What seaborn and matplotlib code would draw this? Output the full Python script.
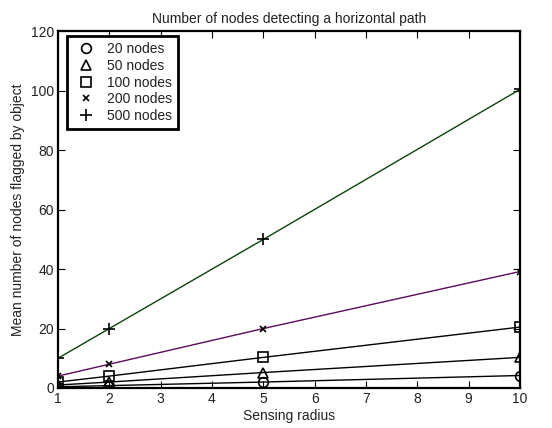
import matplotlib
matplotlib.use("Agg")
import matplotlib.pyplot as plt
from matplotlib.lines import Line2D
import seaborn as sns
import pandas as pd

radius = [1, 2, 5, 10]
nodes_20 = [0.4, 0.8, 2.0, 4.2]
nodes_50 = [1.0, 2.0, 5.2, 10.3]
nodes_100 = [2.0, 4.0, 10.3, 20.5]
nodes_200 = [4.0, 8.0, 20.0, 39.2]
nodes_500 = [10.0, 20.0, 50.0, 100.5]
labels = ["20 nodes", "50 nodes", "100 nodes", "200 nodes", "500 nodes"]

sns.set_theme(style="white")
plt.rcParams["font.family"] = ["Liberation Sans", "DejaVu Sans"]

fig = plt.figure(figsize=(5.52, 4.28), dpi=100)
ax = fig.add_axes([0.105, 0.0935, 0.837, 0.833])

series = [nodes_20, nodes_50, nodes_100, nodes_200, nodes_500]
markers = ["o", "^", "s", "x", "+"]
msizes = [7, 7, 6.5, 4, 9]
line_colors = ["black", "black", "black", "#5c0a5c", "#0a440a"]

for vals, lab, mk, ms, lc in zip(series, labels, markers, msizes, line_colors):
    df = pd.DataFrame({"r": radius, "v": vals})
    sns.lineplot(data=df, x="r", y="v", ax=ax, color=lc, linewidth=1.0,
                 marker=mk, markersize=ms, markerfacecolor="none",
                 markeredgecolor="black", markeredgewidth=1.2,
                 legend=False)

ax.set_xlim(1, 10)
ax.set_ylim(0, 120)
ax.set_xticks(range(1, 11))
ax.set_yticks(range(0, 121, 20))
ax.tick_params(direction="in", length=5, width=0.8, labelsize=10,
               top=True, right=True, bottom=True, left=True, pad=3,
               colors="black", labelcolor="#222222")
for sp in ax.spines.values():
    sp.set_visible(True)
    sp.set_color("black")
    sp.set_linewidth(1.6)

ax.set_xlabel("Sensing radius", fontsize=10, labelpad=2, color="#222222")
ax.set_ylabel("Mean number of nodes flagged by object", fontsize=10,
              labelpad=4, color="#222222")
ax.set_title("Number of nodes detecting a horizontal path", fontsize=10,
             pad=6, color="#222222")

handles = [Line2D([], [], linestyle="none", marker=mk, markersize=ms,
                  markerfacecolor="none", markeredgecolor="black",
                  markeredgewidth=1.2)
           for mk, ms in zip(markers, msizes)]
leg = ax.legend(handles, labels, loc="upper left",
                bbox_to_anchor=(9 / 462, 1 - 5 / 356), borderaxespad=0,
                fontsize=10, frameon=True, fancybox=False, framealpha=1,
                edgecolor="black", borderpad=0.4, labelspacing=0.2,
                handletextpad=0.5, handlelength=2.0)
leg.get_frame().set_linewidth(2.0)
for t in leg.get_texts():
    t.set_color("#222222")

fig.savefig("out.png", dpi=100, facecolor="white")
